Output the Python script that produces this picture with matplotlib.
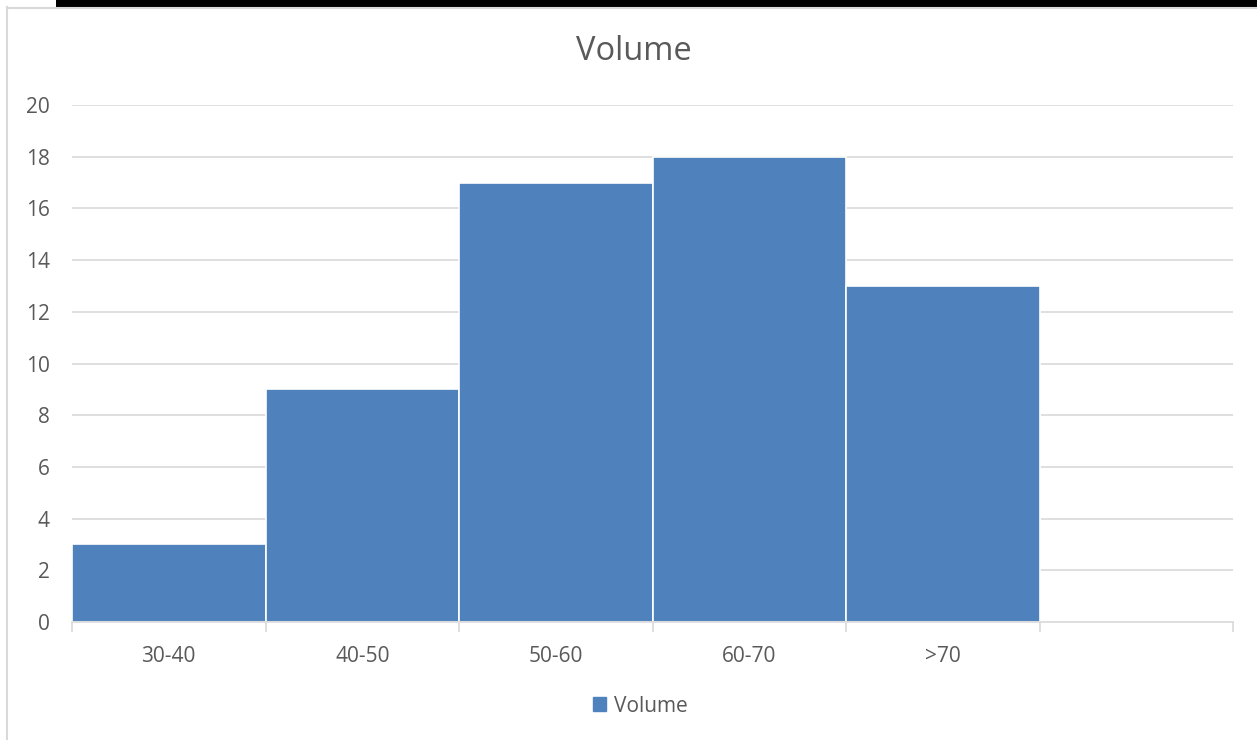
import matplotlib
matplotlib.use("Agg")
import matplotlib.pyplot as plt
from matplotlib.patches import Rectangle
from matplotlib.lines import Line2D

categories = ["30-40", "40-50", "50-60", "60-70", ">70", ""]
counts = [3, 9, 17, 18, 13, 0]
y_ticks = [0, 2, 4, 6, 8, 10, 12, 14, 16, 18, 20]

plt.rcParams['font.family'] = ['Open Sans', 'DejaVu Sans']

W, H = 1257, 740
fig = plt.figure(figsize=(W / 100, H / 100), dpi=100)
fig.patch.set_facecolor("white")

# frame around the chart area and the dark strip along the top
fig.add_artist(Rectangle((56 / W, 1 - 7 / H), 1 - 56 / W, 7 / H, transform=fig.transFigure,
                         facecolor="black", edgecolor="none"))
fig.add_artist(Line2D([7 / W, 7 / W], [0, 1 - 7 / H], transform=fig.transFigure,
                      color="#D9D9D9", lw=1.5))
fig.add_artist(Line2D([7 / W, 1], [1 - 7.5 / H, 1 - 7.5 / H], transform=fig.transFigure,
                      color="#D9D9D9", lw=1.5))

ax = fig.add_axes([72 / W, 1 - 622 / H, (1233 - 72) / W, (622 - 105) / H])
x = list(range(len(categories)))
ax.bar(x, counts, width=1.0, color="#4F81BD", edgecolor="white", linewidth=1.2,
       label="Volume", zorder=3)

ax.set_xlim(-0.5, len(categories) - 0.5)
ax.set_ylim(0, 20)
ax.set_yticks(y_ticks)
ax.yaxis.grid(True, color="#D9D9D9", lw=1.2, zorder=0)
ax.set_xticks(x)
ax.set_xticklabels(categories)
ax.set_xticks([i - 0.5 for i in range(len(categories) + 1)], minor=True)
ax.tick_params(axis="x", which="major", length=0, pad=17, labelsize=15, colors="#595959")
ax.tick_params(axis="x", which="minor", length=7, width=1.2, color="#D9D9D9")
ax.tick_params(axis="y", length=0, pad=16, labelsize=15, colors="#595959")
for s in ["top", "right", "left"]:
    ax.spines[s].set_visible(False)
ax.spines["bottom"].set_color("#D9D9D9")
ax.spines["bottom"].set_linewidth(1.2)
ax.spines["bottom"].set_zorder(4)

fig.text(634 / W, 1 - 51 / H, "Volume", ha="center", va="center", fontsize=23.5, color="#595959")

fig.legend(handles=[Rectangle((0, 0), 1, 1, color="#4F81BD")], labels=["Volume"],
           loc="center", bbox_to_anchor=(640 / W, 1 - 706 / H), frameon=False,
           fontsize=15, labelcolor="#595959", handlelength=0.65, handleheight=0.65,
           handletextpad=0.35)

fig.savefig("out.png", dpi=100)
